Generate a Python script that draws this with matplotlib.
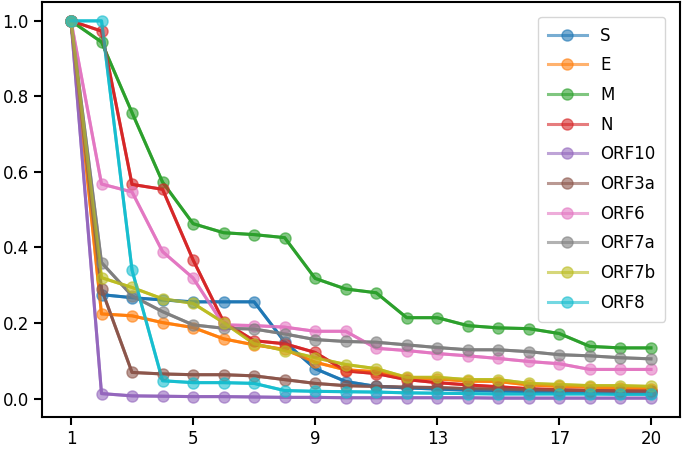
import matplotlib
matplotlib.use("Agg")
import matplotlib.pyplot as plt

x = list(range(1, 21))
labels = ["S", "E", "M", "N", "ORF10", "ORF3a", "ORF6", "ORF7a", "ORF7b", "ORF8"]

S = [1.0, 0.275, 0.267, 0.261, 0.256, 0.256, 0.256, 0.150, 0.079, 0.045, 0.032, 0.028, 0.025, 0.022, 0.020, 0.018, 0.017, 0.016, 0.015, 0.015]
E = [1.0, 0.224, 0.219, 0.201, 0.188, 0.158, 0.142, 0.130, 0.096, 0.076, 0.071, 0.055, 0.052, 0.046, 0.045, 0.036, 0.032, 0.030, 0.028, 0.026]
M = [1.0, 0.944, 0.757, 0.573, 0.463, 0.439, 0.434, 0.426, 0.318, 0.290, 0.280, 0.214, 0.214, 0.193, 0.187, 0.185, 0.172, 0.138, 0.134, 0.134]
N = [1.0, 0.973, 0.567, 0.554, 0.367, 0.203, 0.153, 0.145, 0.122, 0.073, 0.066, 0.050, 0.042, 0.036, 0.031, 0.026, 0.023, 0.021, 0.020, 0.019]
ORF10 = [1.0, 0.013, 0.007, 0.006, 0.005, 0.005, 0.004, 0.003, 0.003, 0.002, 0.002, 0.002, 0.002, 0.002, 0.001, 0.001, 0.001, 0.001, 0.001, 0.001]
ORF3a = [1.0, 0.290, 0.069, 0.065, 0.063, 0.063, 0.060, 0.050, 0.040, 0.034, 0.032, 0.030, 0.029, 0.026, 0.025, 0.023, 0.022, 0.021, 0.020, 0.020]
ORF6 = [1.0, 0.568, 0.547, 0.389, 0.319, 0.195, 0.193, 0.189, 0.178, 0.178, 0.133, 0.127, 0.119, 0.113, 0.106, 0.098, 0.092, 0.077, 0.077, 0.077]
ORF7a = [1.0, 0.360, 0.272, 0.230, 0.195, 0.186, 0.184, 0.171, 0.156, 0.151, 0.149, 0.142, 0.135, 0.129, 0.129, 0.124, 0.116, 0.113, 0.108, 0.105]
ORF7b = [1.0, 0.320, 0.294, 0.264, 0.252, 0.201, 0.145, 0.127, 0.108, 0.090, 0.079, 0.056, 0.056, 0.050, 0.050, 0.040, 0.037, 0.034, 0.034, 0.032]
ORF8 = [1.0, 1.0, 0.340, 0.047, 0.042, 0.042, 0.040, 0.021, 0.019, 0.018, 0.017, 0.015, 0.014, 0.013, 0.012, 0.012, 0.012, 0.012, 0.011, 0.011]

series = [S, E, M, N, ORF10, ORF3a, ORF6, ORF7a, ORF7b, ORF8]
colors = plt.rcParams["axes.prop_cycle"].by_key()["color"]

fig = plt.figure(figsize=(6.84, 4.49), dpi=100)
ax = fig.add_axes([0.0614, 0.0713, 0.9326, 0.9242])

for i, (lab, ys) in enumerate(zip(labels, series)):
    c = colors[i % len(colors)]
    ax.plot(x, ys, color=c, lw=2.2, zorder=2)
    ax.plot(x, ys, color=c, lw=2.2, marker="o", markersize=8, alpha=0.6, label=lab, zorder=3)

ax.set_xticks([1, 5, 9, 13, 17, 20])
ax.set_yticks([0.0, 0.2, 0.4, 0.6, 0.8, 1.0])
ax.tick_params(labelsize=12, width=1.5, length=6)
for sp in ax.spines.values():
    sp.set_linewidth(1.5)
    sp.set_color("black")

ax.legend(loc="upper right", fontsize=12, labelspacing=0.7, handlelength=2.3,
          borderpad=0.6, bbox_to_anchor=(0.99, 0.985))

fig.savefig("out.png", dpi=100)
